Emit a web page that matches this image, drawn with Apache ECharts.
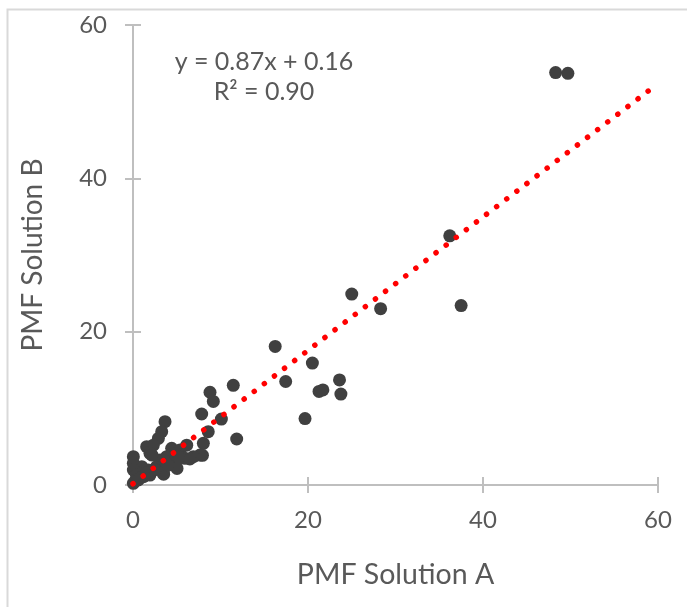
<!DOCTYPE html>
<html>
<head>
<meta charset="utf-8">
<script src="https://cdn.jsdelivr.net/npm/echarts@6/dist/echarts.min.js"></script>
<style>
html,body{margin:0;padding:0;background:#fff;}
#chart{width:687px;height:607px;}
</style>
</head>
<body>
<div id="chart"></div>
<script>
// Data
var solutionA = [48.3, 49.7, 36.2, 37.5, 25.0, 28.3, 16.25, 20.5, 17.45, 23.6, 23.76, 21.26, 21.7, 19.66,
  11.46, 11.85, 8.8, 9.18, 10.1, 7.85, 8.6, 8.04, 7.94, 3.66, 3.28, 2.9, 1.56, 2.32, 1.94, 4.42, 5.37, 6.14,
  7.66, 6.9, 5.94, 5.0, 4.23, 3.66, 3.47, 2.7, 1.75, 1.0, 0.04, 0.04, 0.04, 0.4, 0.04, 0.6, 1.2, 1.94, 4.6,
  5.18, 3.85, 3.1, 3.58, 3.5, 5.03, 2.17, 0.3, 0.8, 1.5, 2.5, 4.0, 6.5];
var solutionB = [53.8, 53.7, 32.5, 23.4, 24.9, 23.0, 18.07, 15.9, 13.5, 13.7, 11.86, 12.2, 12.4, 8.67,
  13.0, 6.0, 12.1, 10.9, 8.6, 9.26, 6.96, 5.43, 3.87, 8.26, 6.96, 6.08, 5.0, 5.2, 4.13, 4.78, 4.56, 5.2,
  3.9, 3.7, 3.48, 3.26, 3.04, 2.39, 1.52, 2.39, 1.96, 2.39, 3.7, 2.83, 1.96, 1.3, 0.22, 0.65, 1.08, 1.3, 3.26,
  3.7, 3.7, 3.26, 3.17, 1.4, 2.16, 3.9, 0.6, 0.9, 1.6, 2.0, 2.6, 3.4];
var trendSlope = 0.87;
var trendIntercept = 0.16;
var trendRange = [0, 60];
var axisTicks = [0, 20, 40, 60];
var xTitle = 'PMF Solution A';
var yTitle = 'PMF Solution B';
var equationText = 'y = 0.87x + 0.16';
var r2Text = 'R² = 0.90';

var points = solutionA.map(function (a, i) { return [a, solutionB[i]]; });
var trendData = trendRange.map(function (x) { return [x, trendSlope * x + trendIntercept]; });

var txt = '#595959';
var axc = '#BFBFBF';
var font = 'Lato';

function baseX(extra) {
  return Object.assign({
    type: 'value', min: axisTicks[0], max: axisTicks[axisTicks.length - 1], interval: 20,
    splitLine: { show: false },
    axisLine: { show: true, onZero: false, lineStyle: { color: axc, width: 2 } },
    axisTick: { show: true, length: 8, lineStyle: { color: axc, width: 2 } }
  }, extra);
}

var chart = echarts.init(document.getElementById('chart'), null, { renderer: 'canvas' });
chart.setOption({
  animation: false,
  backgroundColor: '#fff',
  grid: { left: 133, right: 29, top: 25, bottom: 122, containLabel: false },
  xAxis: [
    baseX({
      name: xTitle, nameLocation: 'middle', nameGap: 75,
      nameTextStyle: { color: txt, fontFamily: font, fontSize: 28.5 },
      axisLabel: { color: txt, fontFamily: font, fontSize: 24, margin: 23 }
    }),
    baseX({ position: 'bottom', axisLine: { show: false }, axisLabel: { show: false },
      axisTick: { show: true, inside: true, length: 8, lineStyle: { color: axc, width: 2 } } })
  ],
  yAxis: [
    baseX({
      name: yTitle, nameLocation: 'middle', nameGap: 86, nameRotate: 90,
      nameTextStyle: { color: txt, fontFamily: font, fontSize: 28 },
      axisLabel: { color: txt, fontFamily: font, fontSize: 24, margin: 26 }
    }),
    baseX({ position: 'left', axisLine: { show: false }, axisLabel: { show: false },
      axisTick: { show: true, inside: true, length: 8, lineStyle: { color: axc, width: 2 } } })
  ],
  series: [
    {
      type: 'scatter', xAxisIndex: 0, yAxisIndex: 0, data: points,
      symbol: 'circle', symbolSize: 13,
      itemStyle: { color: '#404040', opacity: 1 }, z: 2
    },
    {
      type: 'line', xAxisIndex: 0, yAxisIndex: 0, data: trendData,
      showSymbol: false, symbol: 'none',
      lineStyle: { color: '#FF0000', width: 5.5, type: [0.1, 12.6], cap: 'round' }, z: 3
    }
  ],
  graphic: [
    { type: 'rect', shape: { x: 7.5, y: 9.5, width: 720, height: 640 }, silent: true, z: -10,
      style: { fill: 'none', stroke: '#D9D9D9', lineWidth: 2 } },
    { type: 'text', x: 264, y: 62, z: 10,
      style: { text: equationText, fill: txt, font: '25px Lato', align: 'center', verticalAlign: 'middle' } },
    { type: 'text', x: 264, y: 92, z: 10,
      style: { text: r2Text, fill: txt, font: '25px Lato', align: 'center', verticalAlign: 'middle' } }
  ]
});
</script>
</body>
</html>
